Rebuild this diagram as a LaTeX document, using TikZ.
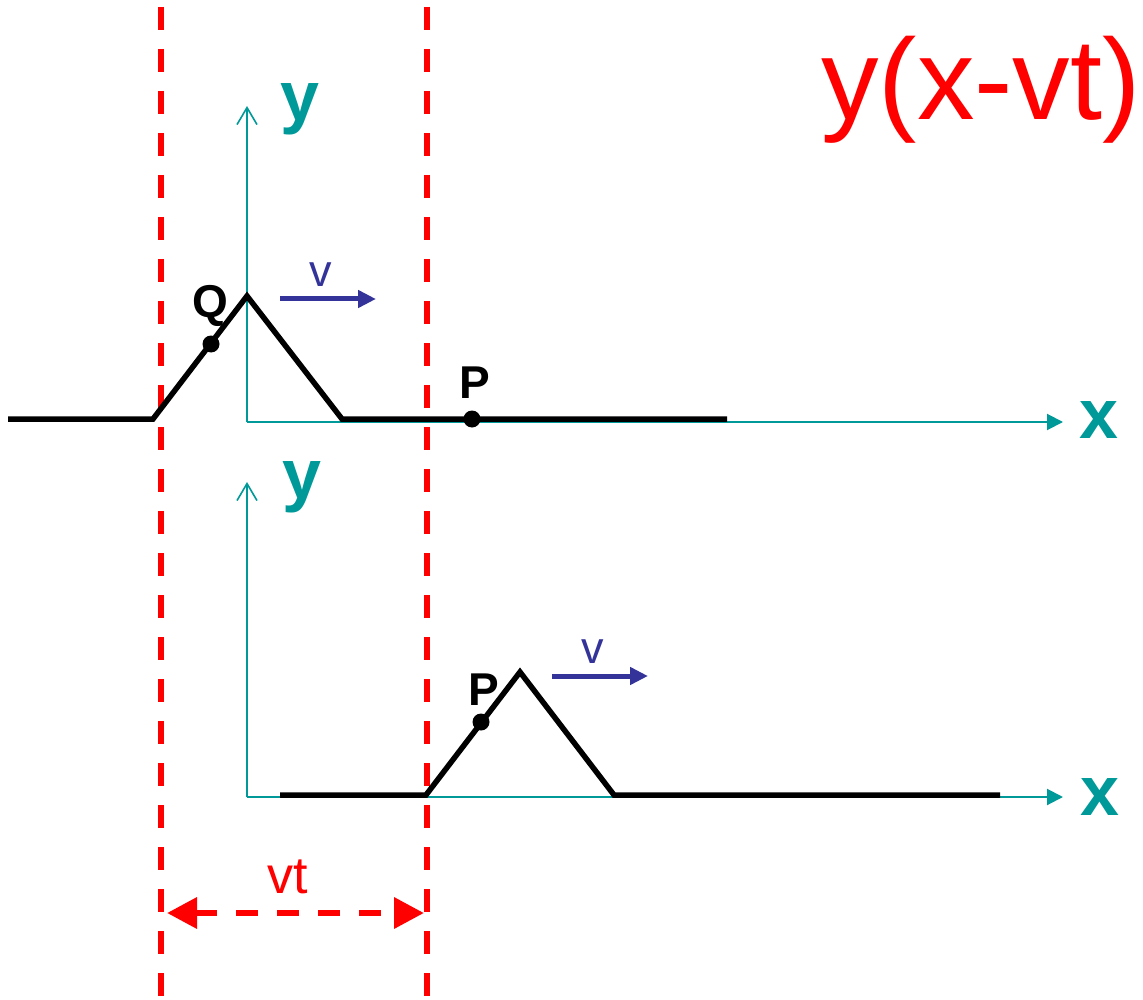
\documentclass[tikz,border=0pt]{standalone}
\usepackage{fontspec}
\setmainfont{Liberation Sans}
\usetikzlibrary{arrows.meta}
\definecolor{axcol}{RGB}{0,153,153}
\definecolor{redc}{RGB}{255,0,0}
\definecolor{bluec}{RGB}{51,51,153}
\tikzset{
  guide/.style={redc, line width=6.5pt, dash pattern=on 23pt off 19pt},
  axis/.style={axcol, line width=2pt},
  yaxis/.style={axis, -{Straight Barb[length=17pt,width=20pt,line width=1.6pt]}},
  xaxis/.style={axis, -{Triangle[length=16pt,width=16pt]}},
  wave/.style={black, line width=5.5pt, line join=miter},
  pt/.style={circle, fill=black, inner sep=0pt, minimum size=17pt},
  axlabel/.style={axcol, font=\fontsize{70}{70}\selectfont\bfseries, anchor=base, inner sep=0pt},
  ptlabel/.style={black, font=\fontsize{46}{46}\selectfont\bfseries, anchor=base, inner sep=0pt},
  vlabel/.style={bluec, font=\fontsize{45}{45}\selectfont, anchor=base, inner sep=0pt},
  varrow/.style={bluec, line width=5pt, -{Triangle[length=18pt,width=17pt]}},
  vtarrow/.style={redc, line width=6.5pt, dash pattern=on 22pt off 19pt, {Triangle[length=30pt,width=30pt]}-{Triangle[length=30pt,width=30pt]}},
}
\begin{document}
\begin{tikzpicture}[x=1pt,y=-1pt]
\useasboundingbox (0,0) rectangle (1143,1000);
% guide lines
\coordinate (g1t) at (161,7); \coordinate (g1b) at (161,1000);
\coordinate (g2t) at (427,7); \coordinate (g2b) at (427,1000);
\draw[guide] (g1t) -- (g1b);
\draw[guide] (g2t) -- (g2b);
% top axes
\coordinate (o1) at (247,422);
\coordinate (y1) at (247,106);
\coordinate (x1) at (1063,422);
\draw[yaxis] (o1) -- (y1);
\draw[xaxis] (o1) -- (x1);
\node[axlabel] (ly1) at (300,121) {y};
\node[axlabel] (lx1) at (1099,438) {x};
% bottom axes
\coordinate (o2) at (247,797);
\coordinate (y2) at (247,482);
\coordinate (x2) at (1063,797);
\draw[yaxis] (o2) -- (y2);
\draw[xaxis] (o2) -- (x2);
\node[axlabel] (ly2) at (302,498) {y};
\node[axlabel] (lx2) at (1100,815) {x};
% top wave
\coordinate (a0) at (8,419);
\coordinate (a1) at (153,419);
\coordinate (a2) at (247,296);
\coordinate (a3) at (342,419);
\coordinate (a4) at (727,419);
\draw[wave] (a0) -- (a1) -- (a2) -- (a3) -- (a4);
\node[pt] (Q) at (211,344) {};
\node[ptlabel] (lQ) at (210,318) {Q};
\node[pt] (P1) at (472,419) {};
\node[ptlabel] (lP1) at (475,398) {P};
\coordinate (v1s) at (280,299);
\coordinate (v1e) at (376,299);
\draw[varrow] (v1s) -- (v1e);
\node[vlabel] (lv1) at (321,287) {v};
% bottom wave
\coordinate (b0) at (280,795);
\coordinate (b1) at (426,795);
\coordinate (b2) at (520,672);
\coordinate (b3) at (614,795);
\coordinate (b4) at (1000,795);
\draw[wave] (b0) -- (b1) -- (b2) -- (b3) -- (b4);
\node[pt] (P2) at (481,722) {};
\node[ptlabel] (lP2) at (484,705) {P};
\coordinate (v2s) at (552,676);
\coordinate (v2e) at (648,676);
\draw[varrow] (v2s) -- (v2e);
\node[vlabel] (lv2) at (593,663) {v};
% vt
\coordinate (vts) at (167,913);
\coordinate (vte) at (424,913);
\draw[vtarrow] (vts) -- (vte);
\node[redc, font=\fontsize{52}{52}\selectfont, anchor=base, inner sep=0pt] (lvt) at (288,893) {vt};
% title
\node[redc, font=\fontsize{115}{115}\selectfont, anchor=base, inner sep=0pt] (title) at (981,120) {y(x-vt)};
\end{tikzpicture}
\end{document}
